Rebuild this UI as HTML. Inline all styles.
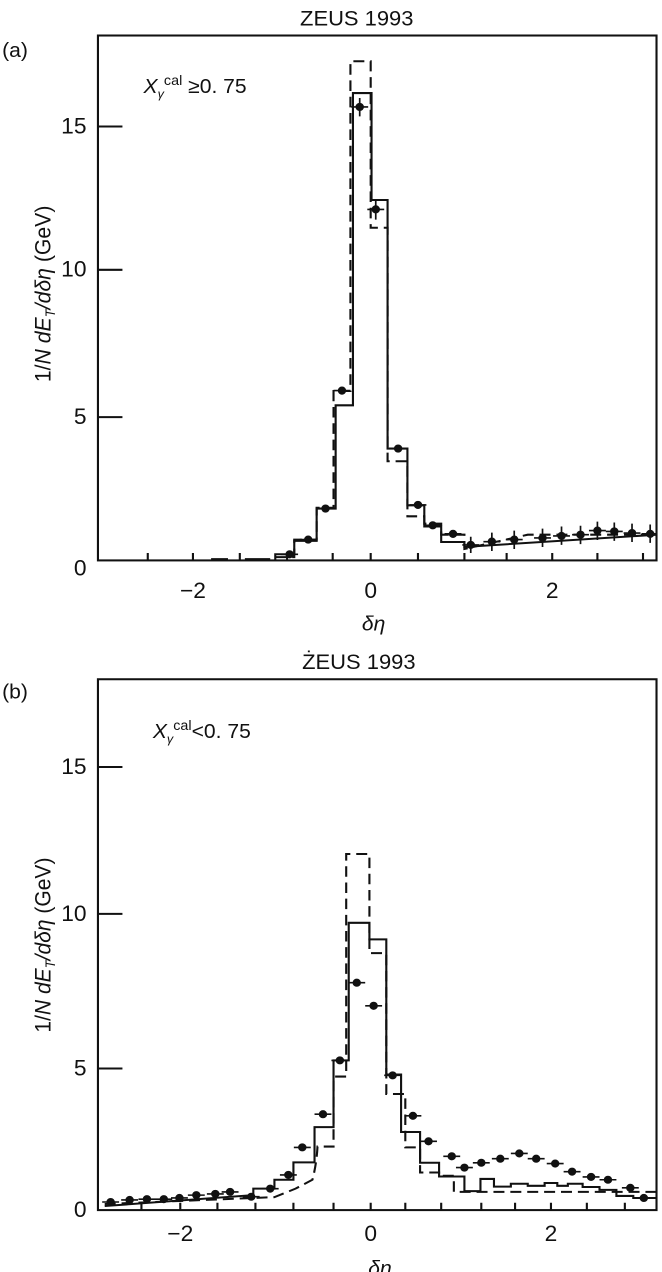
<!DOCTYPE html>
<html><head><meta charset="utf-8"><style>
html,body{margin:0;padding:0;background:#fff;width:662px;height:1272px;overflow:hidden}
svg{position:absolute;left:0;display:block}
text{font-family:"Liberation Sans",sans-serif;fill:#111}
</style></head><body>
<svg style="top:0" width="662" height="640" viewBox="0 0 1568 1568" preserveAspectRatio="none">
<g fill="none" stroke="#111" stroke-width="5">
<rect x="232" y="87" width="1323" height="1286"/>
<path d="M232 310H290M232 661H290M232 1022H290"/>
<path d="M350 1373v-18M457 1373v-18M568 1373v-18M680 1373v-18M788 1373v-18M878 1373v-18M990 1373v-18M1100 1373v-18M1200 1373v-18M1308 1373v-18M1415 1373v-18M1523 1373v-18"/>
<path d="M500 1370H540M580 1370H640M652 1373V1358H697V1325H750V1246H795V993H836V228H880V490H918V1099H965V1238H1005V1290H1045V1328H1100V1340L1555 1310"/>
<path stroke-dasharray="26,14" d="M652 1365H697V1322H750V1244H790V958H830V150H878V558H918V1130H965V1265H1005V1283H1045V1310H1100V1345L1250 1310H1555"/>
</g>
<g stroke="#111" stroke-width="4" fill="#111">
<path d="M666 1358h40M710 1322h40M751 1246h40M790 957h40M832 262h40M852 240v45M870 513h40M890 490v48M923 1099h40M970 1237h40M1005 1287h40M1053 1308h40M1095 1335h40M1115 1315v40M1145 1327h40M1165 1305v45M1198 1322h40M1218 1300v45M1265 1318h40M1285 1295v45M1310 1313h40M1330 1290v45M1355 1310h40M1375 1288v45M1395 1300h40M1415 1278v45M1435 1302h40M1455 1280v45M1477 1306h40M1497 1283v45M1520 1308h35M1540 1285v45"/>
<circle cx="686" cy="1358" r="8"/><circle cx="730" cy="1322" r="8"/><circle cx="771" cy="1246" r="8"/><circle cx="810" cy="957" r="8"/><circle cx="852" cy="262" r="8"/><circle cx="890" cy="513" r="8"/><circle cx="943" cy="1099" r="8"/><circle cx="990" cy="1237" r="8"/><circle cx="1025" cy="1287" r="8"/><circle cx="1073" cy="1308" r="8"/><circle cx="1115" cy="1335" r="8"/><circle cx="1165" cy="1327" r="8"/><circle cx="1218" cy="1322" r="8"/><circle cx="1285" cy="1318" r="8"/><circle cx="1330" cy="1313" r="8"/><circle cx="1375" cy="1310" r="8"/><circle cx="1415" cy="1300" r="8"/><circle cx="1455" cy="1302" r="8"/><circle cx="1497" cy="1306" r="8"/><circle cx="1540" cy="1308" r="8"/>
</g>
<text x="845" y="62" font-size="52" text-anchor="middle">ZEUS 1993</text>
<text x="5" y="140" font-size="50">(a)</text>
<g font-size="54" text-anchor="end"><text x="205" y="327">15</text><text x="205" y="678">10</text><text x="205" y="1039">5</text><text x="205" y="1410">0</text></g>
<g font-size="54" text-anchor="middle"><text x="457" y="1465">−2</text><text x="878" y="1465">0</text><text x="1308" y="1465">2</text></g>
<text x="885" y="1545" font-size="50" font-style="italic" text-anchor="middle">δη</text>
<text transform="translate(120,720) rotate(-90)" font-size="52" text-anchor="middle"><tspan>1/</tspan><tspan font-style="italic">N dE</tspan><tspan font-size="32" font-style="italic" dy="10">T</tspan><tspan font-style="italic" dy="-10">/dδη</tspan> (GeV)</text>
<text x="340" y="228" font-size="50"><tspan font-style="italic">X</tspan><tspan font-size="30" font-style="italic" dy="12">γ</tspan><tspan font-size="34" dy="-32">cal</tspan><tspan dy="20"> ≥0. 75</tspan></text>
</svg>
<svg style="top:640px" width="662" height="632" viewBox="0 6 1568 1562" preserveAspectRatio="none">
<g fill="none" stroke="#111" stroke-width="5">
<rect x="232" y="103" width="1323" height="1312"/>
<path d="M232 320H290M232 683H290M232 1065H290"/>
<path d="M335 1415v-18M427 1415v-18M515 1415v-18M605 1415v-18M695 1415v-18M790 1415v-18M878 1415v-18M960 1415v-18M1045 1415v-18M1140 1415v-18M1220 1415v-18M1305 1415v-18M1390 1415v-18M1480 1415v-18"/>
<path d="M248 1405L600 1378V1362H650V1340H695V1297H745V1210H790V1045H826V705H875V746H915V1080H950V1222H995V1298H1040V1332H1100V1368H1138V1338H1170V1357H1210V1350H1250V1355H1290V1348H1320V1355H1345V1350H1380V1358H1420V1365H1460V1380H1500V1385H1555"/>
<path stroke-dasharray="26,14" d="M248 1400L600 1385L650 1383L700 1362L740 1340Q750 1300 752 1258H790V1085H820V535H875V780H915V1128H960V1260H995V1322H1040V1330H1075V1370H1555"/>
</g>
<g stroke="#111" stroke-width="4" fill="#111">
<path d="M242 1395h40M287 1390h40M328 1388h40M368 1388h40M405 1385h40M445 1378h40M490 1375h40M525 1370h40M575 1382h40M620 1362h40M663 1328h40M696 1260h40M745 1178h40M785 1045h40M825 853h40M865 910h40M910 1082h40M958 1182h40M995 1245h40M1050 1282h40M1080 1310h40M1120 1298h40M1165 1288h40M1210 1275h40M1250 1288h40M1295 1300h40M1335 1320h40M1380 1333h40M1420 1340h40M1473 1360h40M1505 1385h40"/>
<circle cx="262" cy="1395" r="8"/><circle cx="307" cy="1390" r="8"/><circle cx="348" cy="1388" r="8"/><circle cx="388" cy="1388" r="8"/><circle cx="425" cy="1385" r="8"/><circle cx="465" cy="1378" r="8"/><circle cx="510" cy="1375" r="8"/><circle cx="545" cy="1370" r="8"/><circle cx="595" cy="1382" r="8"/><circle cx="640" cy="1362" r="8"/><circle cx="683" cy="1328" r="8"/><circle cx="716" cy="1260" r="8"/><circle cx="765" cy="1178" r="8"/><circle cx="805" cy="1045" r="8"/><circle cx="845" cy="853" r="8"/><circle cx="885" cy="910" r="8"/><circle cx="930" cy="1082" r="8"/><circle cx="978" cy="1182" r="8"/><circle cx="1015" cy="1245" r="8"/><circle cx="1070" cy="1282" r="8"/><circle cx="1100" cy="1310" r="8"/><circle cx="1140" cy="1298" r="8"/><circle cx="1185" cy="1288" r="8"/><circle cx="1230" cy="1275" r="8"/><circle cx="1270" cy="1288" r="8"/><circle cx="1315" cy="1300" r="8"/><circle cx="1355" cy="1320" r="8"/><circle cx="1400" cy="1333" r="8"/><circle cx="1440" cy="1340" r="8"/><circle cx="1493" cy="1360" r="8"/><circle cx="1525" cy="1385" r="8"/>
</g>
<text x="850" y="78" font-size="52" text-anchor="middle">ŻEUS 1993</text>
<text x="5" y="150" font-size="50">(b)</text>
<g font-size="54" text-anchor="end"><text x="205" y="337">15</text><text x="205" y="700">10</text><text x="205" y="1082">5</text><text x="205" y="1432">0</text></g>
<g font-size="54" text-anchor="middle"><text x="427" y="1492">−2</text><text x="878" y="1492">0</text><text x="1305" y="1492">2</text></g>
<text x="900" y="1575" font-size="50" font-style="italic" text-anchor="middle">δη</text>
<text transform="translate(120,760) rotate(-90)" font-size="52" text-anchor="middle"><tspan>1/</tspan><tspan font-style="italic">N dE</tspan><tspan font-size="32" font-style="italic" dy="10">T</tspan><tspan font-style="italic" dy="-10">/dδη</tspan> (GeV)</text>
<text x="362" y="248" font-size="50"><tspan font-style="italic">X</tspan><tspan font-size="30" font-style="italic" dy="12">γ</tspan><tspan font-size="34" dy="-32">cal</tspan><tspan dy="20">&lt;0. 75</tspan></text>
</svg>
</body></html>
